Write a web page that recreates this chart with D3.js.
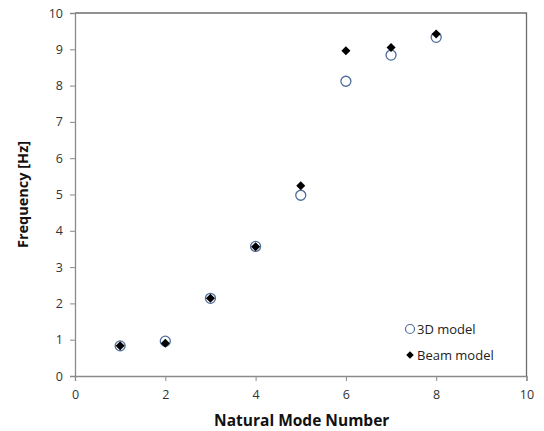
<!DOCTYPE html>
<html><head><meta charset="utf-8">
<script src="https://cdn.jsdelivr.net/npm/d3@7"></script>
<style>body{margin:0;background:#fff}svg{display:block}</style>
</head><body><svg id="c" width="544" height="431"></svg>
<script>
const modes = [1,2,3,4,5,6,7,8];
const model3D = [0.83,0.96,2.14,3.57,4.98,8.12,8.84,9.33];
const beamModel = [0.83,0.90,2.14,3.56,5.24,8.96,9.05,9.42];
const xTicks = [0,2,4,6,8,10];
const yTicks = [0,1,2,3,4,5,6,7,8,9,10];

const svg = d3.select("#c");
const L=75,R=526.5,T=13,B=376;
const x = d3.scaleLinear().domain([0,10]).range([L,R]);
const y = d3.scaleLinear().domain([0,10]).range([B,T]);
const font = "'Open Sans', 'Liberation Sans', sans-serif";

svg.append("path").attr("d",`M${L},${T}H${R}V${B}`).attr("fill","none").attr("stroke","#6e6e6e").attr("stroke-width",1.3);

const xa = svg.append("g").attr("transform",`translate(0,${B})`).call(d3.axisBottom(x).tickValues(xTicks).tickSize(5).tickPadding(9));
const ya = svg.append("g").attr("transform",`translate(${L},0)`).call(d3.axisLeft(y).tickValues(yTicks).tickSize(5).tickPadding(7));
[xa,ya].forEach(a=>{
  a.select(".domain").attr("stroke","#8a8a8a").attr("stroke-width",1.3);
  a.selectAll(".tick line").attr("stroke","#8a8a8a");
  a.selectAll("text").attr("font-family",font).attr("font-size",12.5).attr("fill","#333");
});

svg.append("text").attr("x",(L+R)/2+1).attr("y",426).attr("text-anchor","middle")
  .attr("font-family",font).attr("font-weight","bold").attr("font-size",15.5).attr("fill","#111").text("Natural Mode Number");
svg.append("text").attr("transform",`translate(28,${(T+B)/2}) rotate(-90)`).attr("text-anchor","middle")
  .attr("font-family",font).attr("font-weight","bold").attr("font-size",14.5).attr("fill","#111").text("Frequency [Hz]");

const diamond = d3.symbol().type(d3.symbolDiamond2).size(52);

svg.append("g").selectAll("circle").data(modes).join("circle")
  .attr("cx",(d)=>x(d)).attr("cy",(d,i)=>y(model3D[i])).attr("r",5)
  .attr("fill","#fff").attr("stroke","#4f6d9a").attr("stroke-width",1.3);
svg.append("g").selectAll("path").data(modes).join("path")
  .attr("d",diamond).attr("transform",(d,i)=>`translate(${x(d)},${y(beamModel[i])})`).attr("fill","#000");

const lg = svg.append("g");
lg.append("circle").attr("cx",410).attr("cy",329).attr("r",4.5).attr("fill","#fff").attr("stroke","#4f6d9a").attr("stroke-width",1.2);
lg.append("text").attr("x",417).attr("y",334).attr("font-family",font).attr("font-size",13).attr("fill","#222").text("3D model");
lg.append("path").attr("d",d3.symbol().type(d3.symbolDiamond2).size(36)).attr("transform","translate(410,355)").attr("fill","#000");
lg.append("text").attr("x",417).attr("y",360).attr("font-family",font).attr("font-size",13).attr("fill","#222").text("Beam model");
</script></body></html>
